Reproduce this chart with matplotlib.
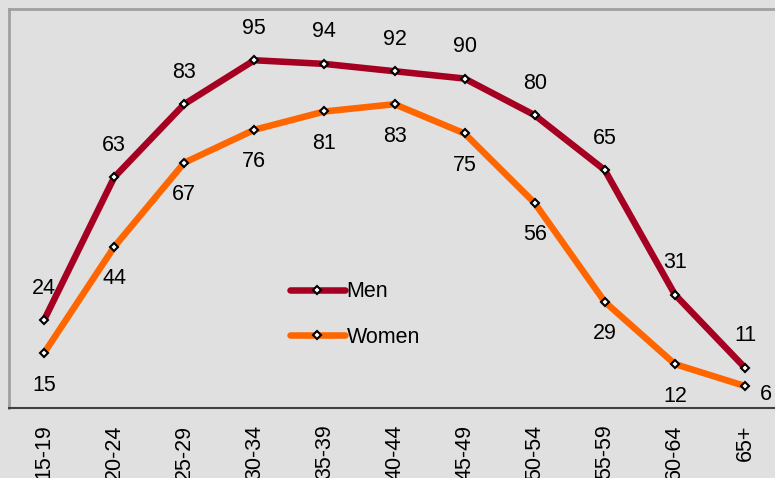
import matplotlib
matplotlib.use("Agg")
import matplotlib.pyplot as plt

categories = ["15-19", "20-24", "25-29", "30-34", "35-39", "40-44", "45-49", "50-54", "55-59", "60-64", "65+"]
men = [24, 63, 83, 95, 94, 92, 90, 80, 65, 31, 11]
women = [15, 44, 67, 76, 81, 83, 75, 56, 29, 12, 6]

men_color = "#a50021"
women_color = "#ff6600"
bg = "#e0e0e0"

plt.rcParams['font.family'] = ['Liberation Sans', 'DejaVu Sans']

fig = plt.figure(figsize=(7.75, 4.78), dpi=100, facecolor=bg)
W, H = 775, 478
ax = fig.add_axes([9 / W, (H - 408) / H, 771 / W, 399 / H])
ax.set_facecolor(bg)

x = list(range(len(categories)))
mk = dict(marker="D", markersize=4.5, markerfacecolor="white", markeredgecolor="black", markeredgewidth=1.5)
ax.plot(x, men, color=men_color, lw=4.7, solid_joinstyle="round", solid_capstyle="round", label="Men", **mk)
ax.plot(x, women, color=women_color, lw=4.7, solid_joinstyle="round", solid_capstyle="round", label="Women", **mk)

fs = 15.5
for i, v in enumerate(men):
    ax.annotate(str(v), (i, v), xytext=(0, 23), textcoords="offset points", ha="center", va="center", fontsize=fs, color="black")
for i, v in enumerate(women):
    if i == len(women) - 1:
        ax.annotate(str(v), (i, v), xytext=(15, -6), textcoords="offset points", ha="center", va="center", fontsize=fs, color="black")
    else:
        ax.annotate(str(v), (i, v), xytext=(0, -23), textcoords="offset points", ha="center", va="center", fontsize=fs, color="black")

ax.set_xlim(-0.5, len(categories) - 0.5)
ax.set_ylim(0, 109)
ax.set_yticks([])
ax.set_xticks(x)
ax.set_xticklabels(categories, rotation=90, fontsize=fs)
ax.tick_params(axis="x", length=0, pad=12)

for s in ["top", "left", "right"]:
    ax.spines[s].set_color("#a0a0a0")
    ax.spines[s].set_linewidth(2)
ax.spines["bottom"].set_color("#404040")
ax.spines["bottom"].set_linewidth(1.5)

leg = ax.legend(loc="upper left", bbox_to_anchor=(0.364, 0.318), frameon=False, fontsize=fs,
                handlelength=2.55, handletextpad=0.1, labelspacing=1.15, borderpad=0, borderaxespad=0)

fig.savefig("out.png", dpi=100, facecolor=bg)
